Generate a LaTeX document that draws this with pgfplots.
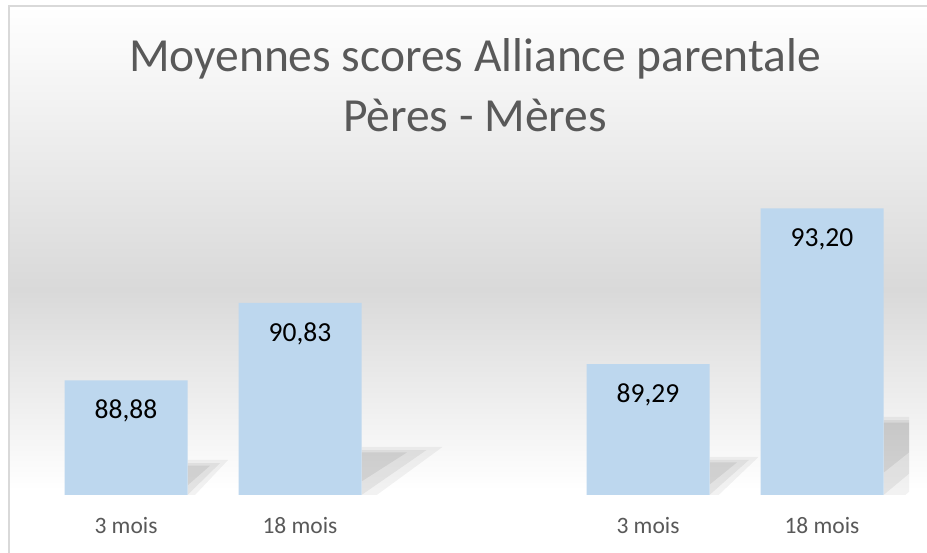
\documentclass[border=0pt]{standalone}
\usepackage{fontspec}
\setmainfont{Carlito}
\usepackage{pgfplots}
\pgfplotsset{compat=1.18}
\definecolor{barblue}{HTML}{BDD7EE}
\definecolor{bggray}{HTML}{D9D9D9}
\definecolor{txtgray}{HTML}{595959}
\definecolor{border}{HTML}{D9D9D9}
\pgfplotsset{
  shadowA/.style={fill=black, fill opacity=0.05, draw=none},
  shadowB/.style={fill=black, fill opacity=0.06, draw=none},
  shadowC/.style={fill=black, fill opacity=0.07, draw=none},
}
\begin{document}
\begin{tikzpicture}
\useasboundingbox (0pt,0pt) rectangle (927pt,553pt);
% background
\fill[white] (0pt,0pt) rectangle (927pt,553pt);
\fill[top color=white, bottom color=bggray] (9pt,263pt) rectangle (927pt,547pt);
\fill[top color=bggray, bottom color=white] (9pt,63pt) rectangle (927pt,263.5pt);
\draw[border, line width=1.6pt] (9pt,0pt) -- (9pt,547pt) -- (930pt,547pt);
% title
\node[anchor=base, text=txtgray, font=\fontsize{47.5pt}{57pt}\selectfont, inner sep=0pt] at (475pt,481.3pt) {Moyennes scores Alliance parentale};
\node[anchor=base, text=txtgray, font=\fontsize{47.5pt}{57pt}\selectfont, inner sep=0pt] at (475pt,421.3pt) {Pères - Mères};
\begin{axis}[
  at={(39pt,58pt)}, anchor=south west,
  scale only axis, width=870pt, height=318.4pt,
  xmin=-0.5, xmax=4.5, ymin=86, ymax=94,
  axis line style={draw=none},
  major tick style={draw=none},
  ytick=\empty,
  xtick={0,1,3,4},
  xticklabels={3 mois,18 mois,3 mois,18 mois},
  xticklabel style={anchor=base, yshift=-39pt, inner sep=0pt, text=txtgray, font=\fontsize{23.5pt}{28pt}\selectfont},
  /pgf/number format/assume math mode=true,
]
% soft perspective shadows (behind bars), three layers each
\addplot[shadowA] coordinates {(0.3535,85.80) (0.3535,86.88) (0.5866,86.88)};
\addplot[shadowB] coordinates {(0.3535,86.00) (0.3535,86.80) (0.5400,86.80)};
\addplot[shadowC] coordinates {(0.3535,86.24) (0.3535,86.74) (0.4840,86.74)};
\addplot[shadowA] coordinates {(1.3535,85.72) (1.3535,87.21) (1.8200,87.21)};
\addplot[shadowB] coordinates {(1.3535,86.00) (1.3535,87.13) (1.7270,87.13)};
\addplot[shadowC] coordinates {(1.3535,86.34) (1.3535,87.07) (1.6150,87.07)};
\addplot[shadowA] coordinates {(3.3535,85.78) (3.3535,86.96) (3.6360,86.96)};
\addplot[shadowB] coordinates {(3.3535,86.00) (3.3535,86.88) (3.5800,86.88)};
\addplot[shadowC] coordinates {(3.3535,86.26) (3.3535,86.82) (3.5120,86.82)};
\addplot[shadowA] coordinates {(4.3535,85.53) (4.3535,87.96) (5.0000,87.96)};
\addplot[shadowB] coordinates {(4.3535,86.00) (4.3535,87.88) (4.8700,87.88)};
\addplot[shadowC] coordinates {(4.3535,86.56) (4.3535,87.82) (4.7150,87.82)};
% bars
\addplot[ybar, bar width=123pt, fill=barblue, draw=none,
  nodes near coords={\pgfmathprintnumber[fixed,fixed zerofill,precision=2,use comma]{\pgfplotspointmeta}},
  every node near coord/.append style={anchor=base, yshift=-38.3pt, inner sep=0pt, text=black, font=\fontsize{27.5pt}{33pt}\selectfont},
] coordinates {(0,88.88) (1,90.83) (3,89.29) (4,93.20)};
\end{axis}
\end{tikzpicture}
\end{document}
